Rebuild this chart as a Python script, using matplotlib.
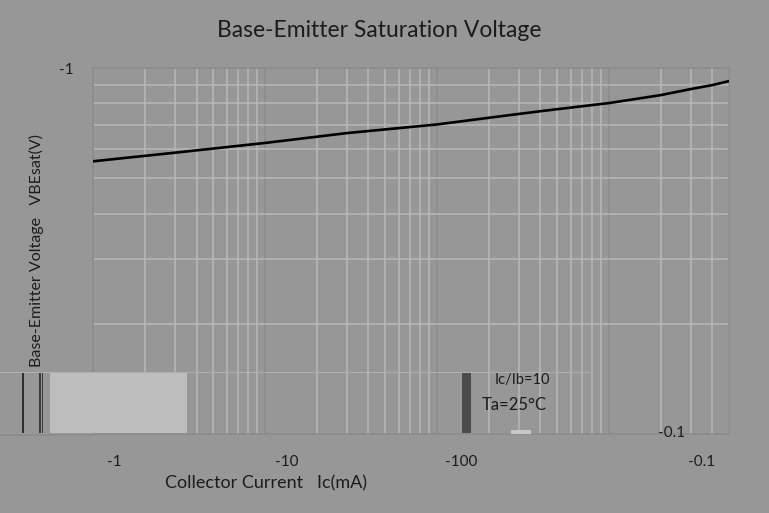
import numpy as np
import matplotlib
matplotlib.use("Agg")
import matplotlib.pyplot as plt
from matplotlib.patches import Rectangle
from matplotlib.lines import Line2D
from matplotlib.ticker import LogLocator, NullFormatter

# ---- data ----
ic_ma = [-0.1, -0.3, -1, -3, -10, -20, -40, -100, -200, -300, -400, -500]
vbesat_v = [-0.556, -0.587, -0.624, -0.664, -0.701, -0.731, -0.762, -0.802,
            -0.843, -0.876, -0.898, -0.921]
x_tick_labels = ["-1", "-10", "-100", "-0.1"]
y_tick_labels = ["-1", "-0.1"]
title_text = "Base-Emitter Saturation Voltage"
xlabel_text = "Collector Current   Ic(mA)"
ylabel_text = "Base-Emitter Voltage   VBEsat(V)"
cond_texts = ["Ic/Ib=10", "Ta=25°C"]

FONT = "Lato"
plt.rcParams["font.family"] = [FONT, "DejaVu Sans"]

W, H = 769, 513
BG = "#979797"
MINOR = "#b8b8b8"
MAJOR = "#8b8b8b"
TXT = "#1c1c1c"

fig = plt.figure(figsize=(W / 100, H / 100), dpi=100)
fig.patch.set_facecolor(BG)


def fx(px):
    return px / W


def fy(py):
    return 1 - py / H


L, R, T, B = 93, 729, 68, 434
ax = fig.add_axes([fx(L), fy(B), fx(R) - fx(L), fy(T) - fy(B)])
ax.set_facecolor(BG)
ax.set_xscale("log")
ax.set_yscale("log")
ax.set_xlim(0.1, 500)
ax.set_ylim(0.1, 1)

# minor grid
ax.xaxis.set_minor_locator(LogLocator(base=10, subs=np.arange(2, 10)))
ax.yaxis.set_minor_locator(LogLocator(base=10, subs=np.arange(2, 10)))
ax.xaxis.set_minor_formatter(NullFormatter())
ax.yaxis.set_minor_formatter(NullFormatter())
ax.grid(which="minor", color=MINOR, lw=1.1)
for d in [1, 10, 100]:
    ax.axvline(d, color=MAJOR, lw=1.1, zorder=1.5)

# tick labels at the positions seen in the reference
tick_px = [114, 287, 461, 702]
xt = [0.1 * 10 ** ((p - L) / 172.0) for p in tick_px]
ax.set_xticks(xt, x_tick_labels)
ax.set_yticks([1], y_tick_labels[:1])
ax.grid(which="major", visible=False)
ax.tick_params(which="both", length=0, labelsize=11, colors=TXT)
ax.tick_params(axis="x", pad=15)
ax.tick_params(axis="y", pad=14)
for s in ax.spines.values():
    s.set_color(MAJOR)
    s.set_linewidth(1.1)

ax.plot(np.abs(ic_ma), np.abs(vbesat_v), color="#000000", lw=1.9, zorder=3)

# texts
fig.text(fx(379), fy(31), title_text, ha="center", va="center", fontsize=16.5, color=TXT)
fig.text(fx(266), fy(483), xlabel_text, ha="center", va="center", fontsize=13, color=TXT)
fig.text(fx(36), fy(251), ylabel_text, ha="center", va="center", rotation=90,
         fontsize=11.5, color=TXT)

# artefact strip seen in the reference
def rect(x0, y0, x1, y1, c, z=2):
    fig.add_artist(Rectangle((fx(x0), fy(y1)), fx(x1) - fx(x0), fy(y0) - fy(y1),
                             transform=fig.transFigure, facecolor=c, edgecolor="none", zorder=z))

rect(0, 372, 590, 373, "#b0b0b0")
rect(50, 373, 187, 433, "#bdbdbd")
rect(22, 373, 24, 433, "#2e2e2e")
rect(39, 373, 40.5, 433, "#3a3a3a")
rect(42, 373, 43.5, 433, "#3a3a3a")
rect(462, 373, 471, 433, "#4b4b4b")
rect(511, 430, 531, 434, "#c8c8c8")
fig.add_artist(Line2D([0, fx(L)], [fy(434.5), fy(434.5)], transform=fig.transFigure,
                      color=MAJOR, lw=1.1, zorder=2))

fig.text(fx(522), fy(380), cond_texts[0], ha="center", va="center", fontsize=10.5,
         color=TXT, zorder=4)
fig.text(fx(514), fy(405), cond_texts[1], ha="center", va="center", fontsize=12,
         color=TXT, zorder=4)
fig.text(fx(672), fy(433), y_tick_labels[1], ha="center", va="center", fontsize=11,
         color=TXT, zorder=4)

fig.savefig("out.png", dpi=100, facecolor=BG)
